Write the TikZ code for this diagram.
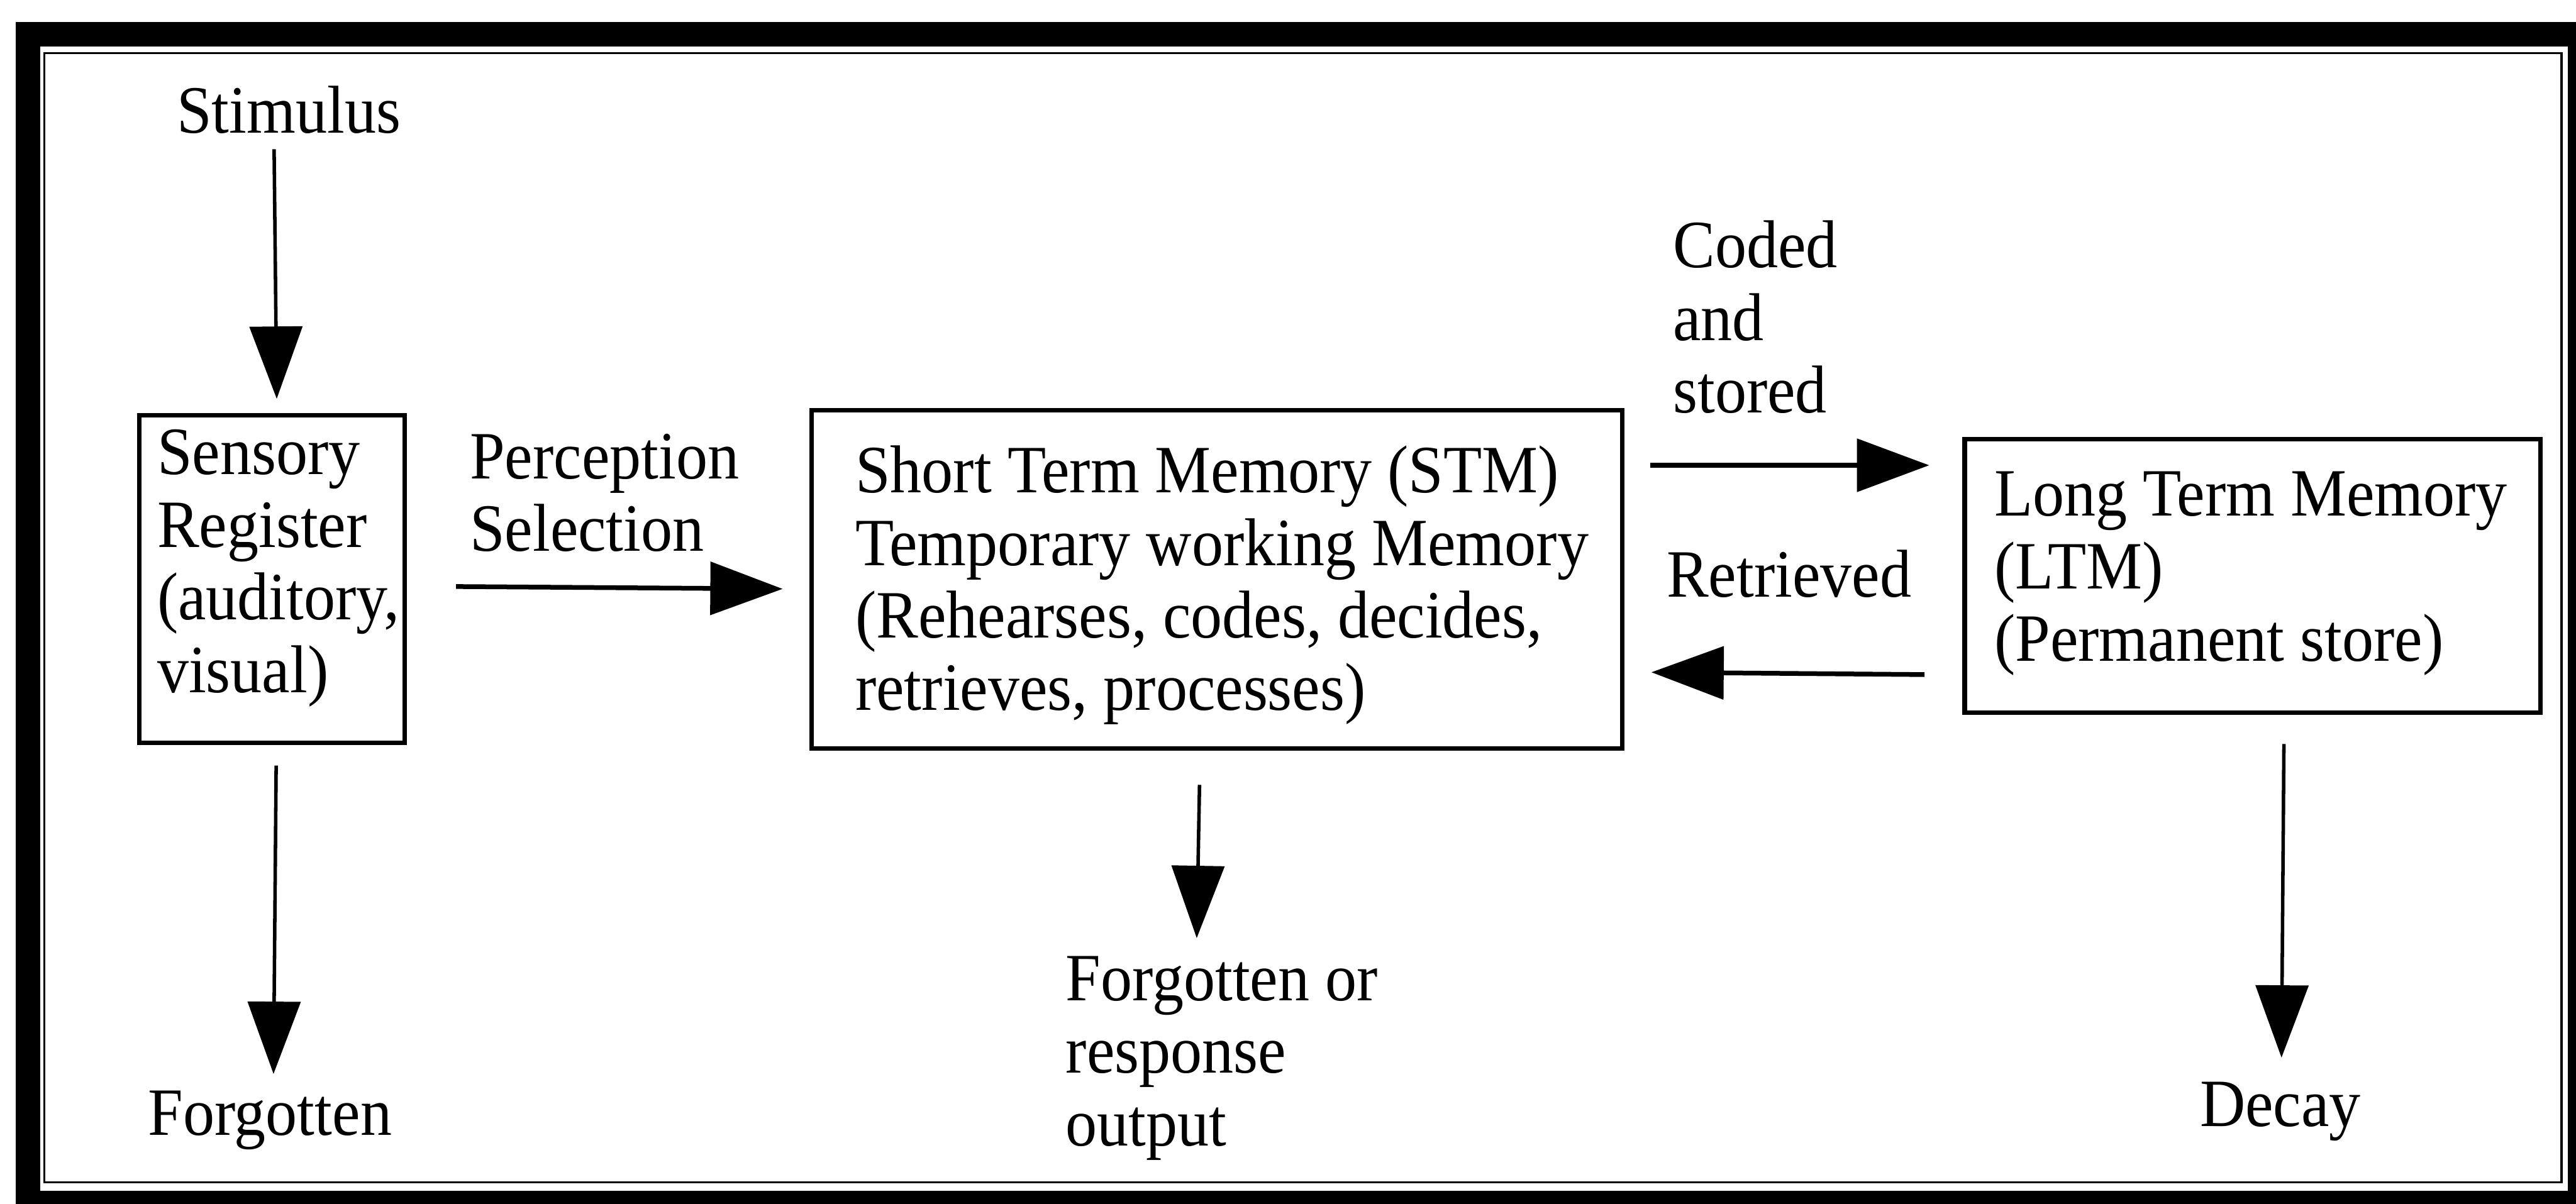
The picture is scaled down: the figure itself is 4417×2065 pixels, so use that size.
\documentclass[tikz,border=0pt]{standalone}
\usepackage{fontspec}
\setmainfont{Liberation Serif}[FakeStretch=0.93]
\usetikzlibrary{arrows.meta,calc}

% left-aligned stack of lines whose baseline is the first line
\newcommand\linestack[1]{\begin{tabular}[t]{@{}l@{}}#1\end{tabular}}

\begin{document}
\begin{tikzpicture}[x=0.01cm,y=-0.01cm,
  lbl/.style={inner sep=0pt, font=\fontsize{33pt}{35.4pt}\selectfont},
  boxed/.style={draw, line width=2.2pt, inner sep=0pt, anchor=north west},
  arr/.style={line width=1.7pt, -{Triangle[length=12.4mm,width=9mm]}},
  harr/.style={arr, line width=2.3pt}]

\useasboundingbox (0,0) rectangle (4417,2065);

% double frame: heavy outer band and thin inner rule
\draw[line width=4.2mm] (48,59) rectangle (4424,2063);
\draw[line width=1.1pt] (76,91) rectangle (4392,2028);

% memory stores
\node[boxed, minimum width=45.5mm, minimum height=56.2mm] (sr) at (235,708) {};
\node[boxed, minimum width=138.9mm, minimum height=58mm] (stm) at (1388,700) {};
\node[boxed, minimum width=98.7mm, minimum height=46.9mm] (ltm) at (3365,749) {};

% texts
\node[lbl, anchor=base] (stim) at (495,228) {Stimulus};
\node[lbl, anchor=base west] (srtext) at (269,814)
  {\linestack{Sensory\\Register\\(auditory,\\visual)}};
\node[lbl, anchor=base west] (perc) at (805,821)
  {\linestack{Perception\\Selection}};
\node[lbl, anchor=base west] (stmtext) at (1466,845)
  {\linestack{Short Term Memory (STM)\\Temporary working Memory\\(Rehearses, codes, decides,\\retrieves, processes)}};
\node[lbl, anchor=base west] (coded) at (2868,459)
  {\linestack{Coded\\and\\stored}};
\node[lbl, anchor=base west] (retr) at (2857,1024) {Retrieved};
\node[lbl, anchor=base west] (ltmtext) at (3419,885)
  {\linestack{Long Term Memory\\(LTM)\\(Permanent store)}};
\node[lbl, anchor=base west] (fro) at (1827,1716)
  {\linestack{Forgotten or\\response\\output}};
\node[lbl, anchor=base] (forg) at (463,1947) {Forgotten};
\node[lbl, anchor=base] (decay) at (3910,1932) {Decay};

% flows
\draw[arr] ($(stim.base)+(-25,28)$) -- ($(sr.north)+(8,-24)$);
\draw[arr] ($(sr.south)+(7,35)$) -- ($(forg.base)+(6,-105)$);
\draw[harr] ($(perc.base west)+(-23,185)$) -- ($(stm.west)+(-46,16)$);
\draw[arr] ($(stm.south)+(-30,58)$) -- ($(fro.base west)+(225,-107)$);
\draw[harr] ($(stm.north east)+(44,98)$) -- ($(ltm.north west)+(-57,49)$);
\draw[harr] ($(ltm.south west)+(-65,-69)$) -- ($(stm.east)+(46,159)$);
\draw[arr] ($(ltm.south)+(53.5,50)$) -- ($(decay.base)+(2,-118)$);

\end{tikzpicture}
\end{document}
